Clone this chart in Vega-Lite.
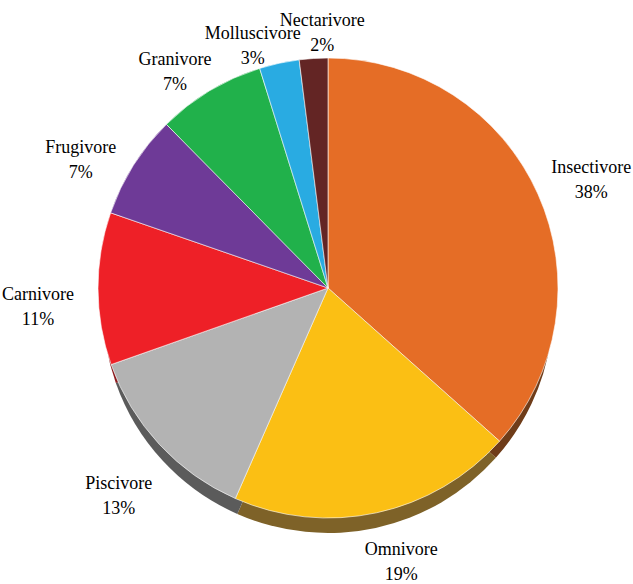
{
  "$schema": "https://vega.github.io/schema/vega-lite/v6.json",
  "width": 610,
  "height": 576,
  "autosize": {"type": "none"},
  "padding": {"left": 23, "top": 0, "right": 0, "bottom": 8},
  "background": "white",
  "data": {
    "values": [
      {"rank": 1, "group": "Insectivore", "share": 36.6, "pct": "38%"},
      {"rank": 2, "group": "Omnivore", "share": 20.0, "pct": "19%"},
      {"rank": 3, "group": "Piscivore", "share": 13.0, "pct": "13%"},
      {"rank": 4, "group": "Carnivore", "share": 10.7, "pct": "11%"},
      {"rank": 5, "group": "Frugivore", "share": 7.3, "pct": "7%"},
      {"rank": 6, "group": "Granivore", "share": 7.6, "pct": "7%"},
      {"rank": 7, "group": "Molluscivore", "share": 2.8, "pct": "3%"},
      {"rank": 8, "group": "Nectarivore", "share": 2.0, "pct": "2%"}
    ]
  },
  "encoding": {
    "theta": {"field": "share", "type": "quantitative", "stack": true},
    "order": {"field": "rank", "type": "quantitative"}
  },
  "layer": [
    {
      "mark": {"type": "arc", "outerRadius": 225, "yOffset": 20},
      "encoding": {
        "color": {
          "field": "group",
          "type": "nominal",
          "scale": {
            "domain": ["Insectivore", "Omnivore", "Piscivore", "Carnivore", "Frugivore", "Granivore", "Molluscivore", "Nectarivore"],
            "range": ["#6f3c19", "#7e6228", "#5b5b5b", "#8c1a1d", "#381d4c", "#11592a", "#155671", "#321312"]
          },
          "legend": null
        }
      }
    },
    {
      "mark": {"type": "arc", "outerRadius": 230, "stroke": "white", "strokeWidth": 0.6},
      "encoding": {
        "color": {
          "field": "group",
          "type": "nominal",
          "scale": {
            "domain": ["Insectivore", "Omnivore", "Piscivore", "Carnivore", "Frugivore", "Granivore", "Molluscivore", "Nectarivore"],
            "range": ["#E56D26", "#FBBF14", "#B3B3B3", "#EE2027", "#6E3A97", "#21B14B", "#29ABE2", "#632524"]
          },
          "legend": null
        }
      }
    },
    {
      "mark": {
        "type": "text", "radius": 284,
        "dx": {"expr": "[4,13,-1,-6,-7,-7,-15,12][datum.rank - 1]"},
        "dy": {"expr": "5 + [-9,-21,-2,1,6,11,19,11][datum.rank - 1]"},
        "font": "Liberation Serif", "fontSize": 18, "color": "black", "baseline": "middle", "align": "center"
      },
      "encoding": {"text": {"field": "group"}}
    },
    {
      "mark": {
        "type": "text", "radius": 284,
        "dx": {"expr": "[4,13,-1,-6,-7,-7,-15,12][datum.rank - 1]"},
        "dy": {"expr": "30 + [-9,-21,-2,1,6,11,19,11][datum.rank - 1]"},
        "font": "Liberation Serif", "fontSize": 18, "color": "black", "baseline": "middle", "align": "center"
      },
      "encoding": {"text": {"field": "pct"}}
    }
  ],
  "resolve": {"scale": {"color": "independent"}},
  "config": {"view": {"stroke": null}}
}
